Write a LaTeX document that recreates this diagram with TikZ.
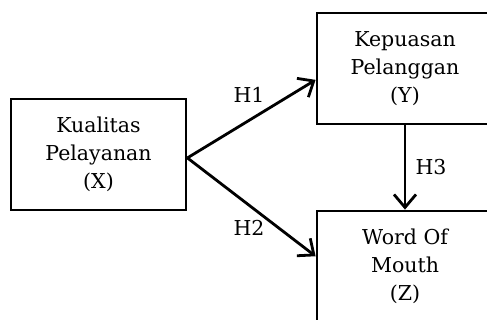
\documentclass[tikz,border=0pt]{standalone}
\usepackage{fontspec}
\setmainfont{DejaVu Serif}
\usetikzlibrary{arrows.meta,calc}
\begin{document}
\begin{tikzpicture}[x=1pt,y=-1pt,
  box/.style={draw,line width=2.8pt,minimum width=175pt,minimum height=111pt,inner sep=0pt,align=center,
    font=\fontsize{20.5}{28}\selectfont},
  lbl/.style={inner sep=0pt,font=\fontsize{20.5}{28}\selectfont},
  conn/.style={line width=2.8pt,-{Straight Barb[length=13pt,width=22pt,line width=2.8pt]}}]
\useasboundingbox (0,0) rectangle (487,320);
\node[box] (X) at (98.5,154.5) {Kualitas\\Pelayanan\\(X)};
\node[box,minimum width=176pt] (Y) at (405,68.5) {Kepuasan\\Pelanggan\\(Y)};
\node[box,minimum width=176pt] (Z) at (405,266.5) {Word Of\\Mouth\\(Z)};
\coordinate (xs) at ($(X.north east)!0.53!(X.south east)$);
\coordinate (ye) at ($(Y.north west)!0.6!(Y.south west)$);
\coordinate (ze) at ($(Z.north west)!0.41!(Z.south west)$);
\draw[conn] (xs) -- (ye);
\draw[conn] (xs) -- (ze);
\draw[conn] (Y.south) -- (Z.north);
\node[lbl] (h1) at (249,95) {H1};
\node[lbl] (h2) at (249,228) {H2};
\node[lbl] (h3) at (431,167) {H3};
\end{tikzpicture}
\end{document}
